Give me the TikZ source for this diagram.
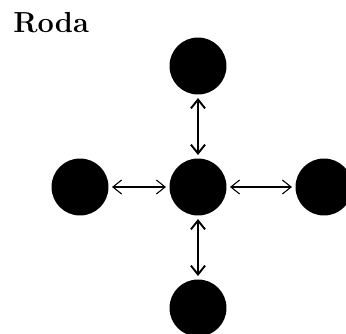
\documentclass[tikz,border=0pt]{standalone}
\usepackage{tikz}
\usetikzlibrary{arrows.meta}

\begin{document}
\begin{tikzpicture}[x=0.02cm, y=-0.02cm,
  member/.style={circle, fill=black, inner sep=0pt, minimum size=1.14cm, outer sep=2pt},
  link/.style={{Straight Barb[length=5pt,width=8pt]}-{Straight Barb[length=5pt,width=8pt]}}]
\useasboundingbox (0,0) rectangle (346,334);
%----------------- title -----------------
\node[anchor=west, inner sep=0pt, font=\fontsize{16.5}{19}\selectfont\bfseries] (title) at (13,23) {Roda};
%----------------- members of the wheel -----------------
\node[member] (hub) at (198,187) {};
\node[member] (top) at (198,66) {};
\node[member] (bottom) at (198,308) {};
\node[member] (left) at (80,187) {};
\node[member] (right) at (324,187) {};
% spokes
\draw[link, line width=1.1pt] (hub) -- (top);
\draw[link, line width=1.1pt] (hub) -- (bottom);
\draw[link, line width=0.6pt] (hub) -- (left);
\draw[link, line width=0.6pt] (hub) -- (right);
\end{tikzpicture}
\end{document}
